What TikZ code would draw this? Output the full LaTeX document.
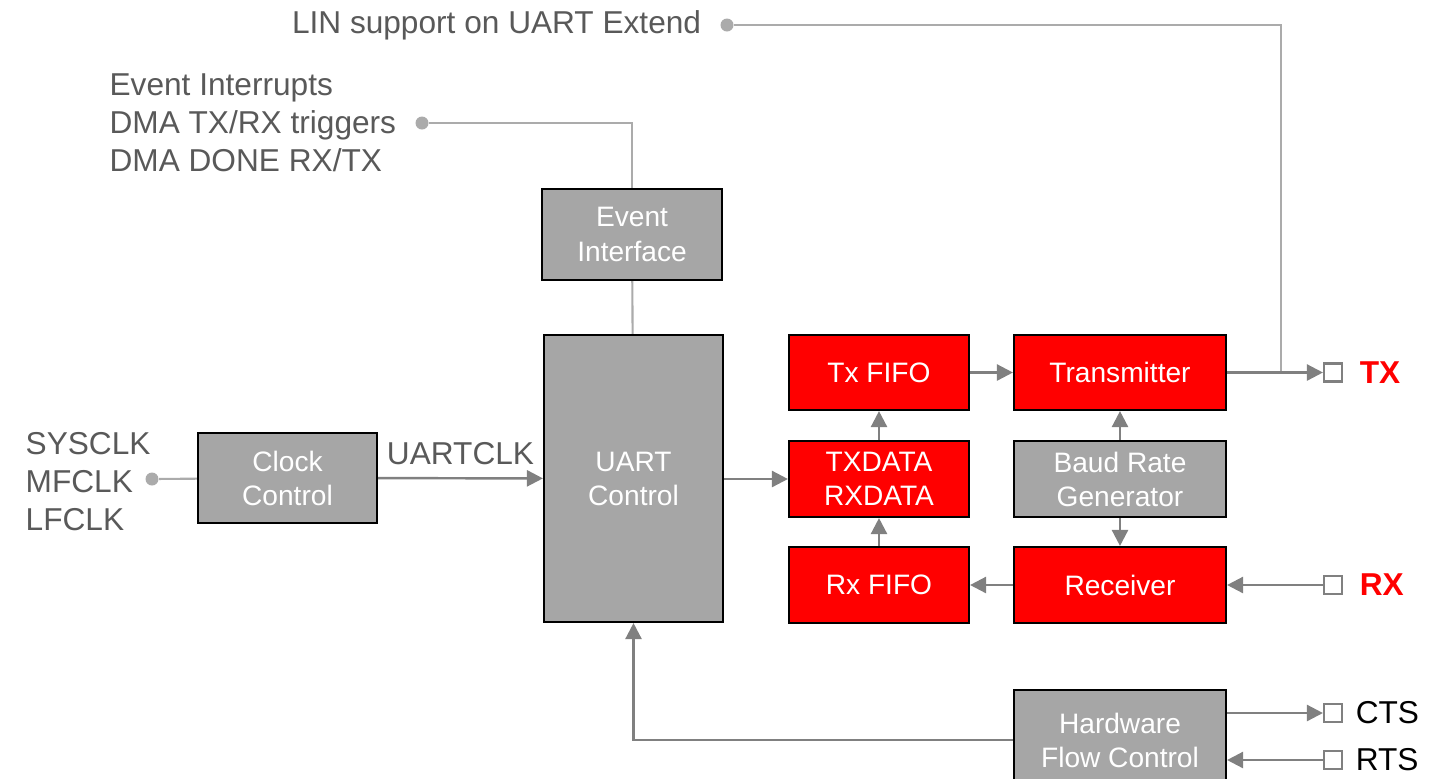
\documentclass[tikz,border=0pt]{standalone}
\usepackage{fontspec}
\setmainfont{Liberation Sans}
\usetikzlibrary{arrows.meta, positioning}
\definecolor{boxgray}{HTML}{A6A6A6}
\definecolor{linegray}{HTML}{808080}
\definecolor{wiregray}{HTML}{ABABAB}
\definecolor{textgray}{HTML}{595959}
\definecolor{uartred}{HTML}{FF0000}

\begin{document}
\begin{tikzpicture}[x=0.1mm, y=-0.1mm,
        blk/.style={draw=black, line width=0.6pt, text=white, align=center, inner sep=0pt, font=\fontsize{8}{9.7}\selectfont},
        grayblk/.style={blk, fill=boxgray},
        redblk/.style={blk, fill=uartred},
        sig/.style={draw=linegray, line width=0.7pt, -{Triangle[length=1.6mm, width=1.6mm]}},
        wire/.style={draw=wiregray, line width=0.6pt},
        tap/.style={circle, fill=wiregray, inner sep=0pt, minimum size=1.3mm},
        pin/.style={draw=linegray, line width=0.6pt, fill=white, inner sep=0pt, minimum size=1.8mm},
        lbl/.style={text=textgray, align=left, inner sep=0pt, font=\fontsize{9}{10.8}\selectfont},
        pinlbl/.style={inner sep=0pt, font=\fontsize{9}{10.8}\selectfont}]
        \useasboundingbox (0,0) rectangle (1436,778);

        \node[grayblk, minimum width=18mm, minimum height=9.1mm] (event) at (632,234.5) {Event\\Interface};
        \node[grayblk, minimum width=17.9mm, minimum height=28.7mm] (uart) at (633.5,478.5) {UART\\Control};
        \node[grayblk, minimum width=17.9mm, minimum height=9mm] (clk) at (287.5,478) {Clock\\Control};
        \node[redblk, minimum width=18mm, minimum height=7.5mm] (txfifo) at (879,372.5) {Tx FIFO};
        \node[redblk, minimum width=18mm, minimum height=7.6mm] (data) at (879,479) {TXDATA\\RXDATA};
        \node[redblk, minimum width=18mm, minimum height=7.6mm] (rxfifo) at (879,585) {Rx FIFO};
        \node[redblk, minimum width=21.2mm, minimum height=7.5mm] (tx) at (1120,372.5) {Transmitter};
        \node[grayblk, minimum width=21.2mm, minimum height=7.6mm] (baud) at (1120,479) {Baud Rate\\Generator};
        \node[redblk, minimum width=21.2mm, minimum height=7.6mm] (rx) at (1120,585) {Receiver};
        \node[grayblk, minimum width=21.2mm, minimum height=10mm] (hfc) at (1120,740) {Hardware\\Flow Control};

        \node[pin] (txpin) at (1333,372.5) {};
        \node[pin] (rxpin) at (1333,585) {};
        \node[pin] (ctspin) at (1333,713) {};
        \node[pin] (rtspin) at (1333,760) {};
        \node[pinlbl, text=uartred, font=\fontsize{9}{10.8}\selectfont\bfseries, right=1.6mm of txpin] (txlbl) {TX};
        \node[pinlbl, text=uartred, font=\fontsize{9}{10.8}\selectfont\bfseries, right=1.6mm of rxpin] (rxlbl) {RX};
        \node[pinlbl, right=1.2mm of ctspin] (ctslbl) {CTS};
        \node[pinlbl, right=1.2mm of rtspin] (rtslbl) {RTS};

        \node[tap] (lindot) at (727,25) {};
        \node[tap] (evdot) at (422,123) {};
        \node[tap] (clkdot) at (152,479) {};
        \node[lbl, left=1.8mm of lindot] (linlbl) {LIN support on UART Extend};
        \node[lbl, left=1.8mm of evdot] (evlbl) {Event Interrupts\\DMA TX/RX triggers\\DMA DONE RX/TX};
        \node[lbl, anchor=west] (clklbl) at (25,482) {SYSCLK\\MFCLK\\LFCLK};
        \coordinate (lintap) at (1281,372.5);

        \draw[wire] (lindot) -| (lintap);
        \draw[wire] (evdot) -| (event.north);
        \draw[wire] (event) -- (uart);
        \draw[wire] (clkdot) -- (clk);
        \draw[sig] (clk) -- node[lbl, above=1.2mm] (uartclk) {UARTCLK} (uart);
        \draw[sig] (uart.east |- data.west) -- (data.west);
        \draw[sig] (data) -- (txfifo);
        \draw[sig] (rxfifo) -- (data);
        \draw[sig] (txfifo) -- (tx);
        \draw[sig] (baud) -- (tx);
        \draw[sig] (baud) -- (rx);
        \draw[sig] (rx) -- (rxfifo);
        \draw[sig] (tx) -- (txpin);
        \draw[sig] (rxpin) -- (rx);
        \draw[sig] (hfc.east |- ctspin) -- (ctspin);
        \draw[sig] (rtspin) -- (hfc.east |- rtspin);
        \draw[sig] (hfc.west) -| (uart.south);
      \end{tikzpicture}
\end{document}
